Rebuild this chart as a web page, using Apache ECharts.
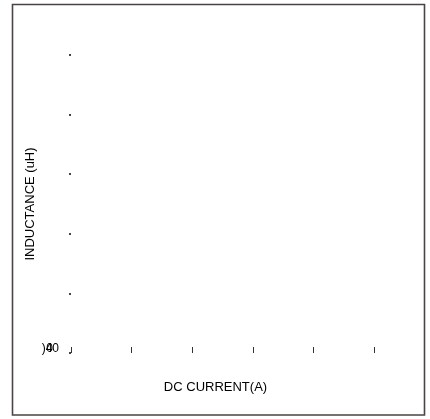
<!DOCTYPE html>
<html>
<head>
<meta charset="utf-8">
<script src="https://cdn.jsdelivr.net/npm/echarts@6/dist/echarts.min.js"></script>
<style>html,body{margin:0;padding:0;background:#fff}#c{width:430px;height:419px}</style>
</head>
<body>
<div id="c"></div>
<script>
// Data (the reference shows no plotted marks, only axes)
const xTicks = [0, 1, 2, 3, 4, 5];
const yTicks = [0, 1, 2, 3, 4, 5];
const seriesValues = [];
const yZeroLabel = ')40';
const yZeroLabel2 = '0';
const xAxisTitle = 'DC CURRENT(A)';
const yAxisTitle = 'INDUCTANCE (uH)';

const chart = echarts.init(document.getElementById('c'), null, {renderer: 'canvas'});
const font = 'Arial, "Liberation Sans", sans-serif';
chart.setOption({
  animation: false,
  backgroundColor: '#fff',
  grid: {left: 71, right: 56, top: 55, bottom: 66, containLabel: false},
  graphic: [{
    type: 'rect',
    shape: {x: 12.5, y: 4.5, width: 412, height: 410.5},
    style: {fill: 'none', stroke: '#4a4444', lineWidth: 1.6},
    silent: true
  }],
  xAxis: {
    type: 'value',
    min: xTicks[0], max: xTicks[xTicks.length - 1], interval: 1,
    name: xAxisTitle, nameLocation: 'middle', nameGap: 28, nameMoveOverlap: false,
    nameTextStyle: {fontFamily: font, fontSize: 13, color: '#000', padding: [0, 14, 0, 0]},
    axisLine: {show: false},
    axisTick: {show: true, inside: true, length: 6, lineStyle: {color: '#333', width: 1}},
    axisLabel: {show: false},
    splitLine: {show: false}
  },
  yAxis: [{
    type: 'value',
    min: yTicks[0], max: yTicks[yTicks.length - 1], interval: 1,
    name: yAxisTitle, nameLocation: 'middle', nameGap: 34, nameMoveOverlap: false,
    nameTextStyle: {fontFamily: font, fontSize: 13, color: '#000'},
    axisLine: {show: false},
    axisTick: {show: true, length: 2, lineStyle: {color: '#444', width: 2}},
    axisLabel: {
      show: true, margin: 12, fontFamily: font, fontSize: 12, color: '#000',
      verticalAlign: 'bottom', padding: [0, 0, -2, 0],
      formatter: v => v === yTicks[0] ? yZeroLabel : ''
    },
    splitLine: {show: false}
  }, {
    type: 'value', position: 'left',
    min: yTicks[0], max: yTicks[yTicks.length - 1], interval: 1,
    axisLine: {show: false}, axisTick: {show: false},
    axisLabel: {
      show: true, margin: 18, fontFamily: font, fontSize: 12, color: '#000',
      verticalAlign: 'bottom', padding: [0, 0, -2, 0],
      formatter: v => v === yTicks[0] ? yZeroLabel2 : ''
    },
    splitLine: {show: false}
  }],
  series: [{type: 'line', data: seriesValues, symbol: 'none'}]
});
</script>
</body>
</html>
